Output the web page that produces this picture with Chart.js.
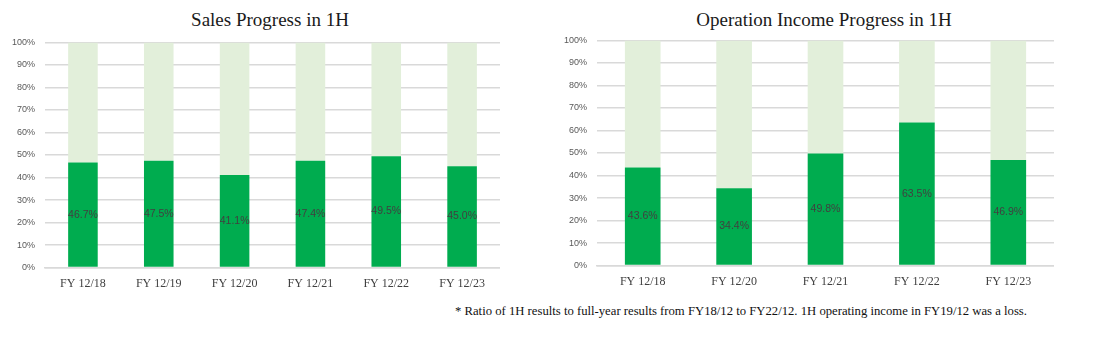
<!DOCTYPE html>
<html>
<head>
<meta charset="utf-8">
<script src="https://cdn.jsdelivr.net/npm/chart.js@4"></script>
<style>
  body { margin: 0; background: #fff; width: 1093px; height: 338px; position: relative; overflow: hidden; }
  .box { position: absolute; }
  .title { position: absolute; font-family: "Liberation Serif", serif; font-size: 19px; color: #1a1a1a; text-align: center; white-space: nowrap; }
  .note { position: absolute; left: 455px; top: 304px; font-family: "Liberation Serif", serif; font-size: 12.7px; color: #111; white-space: nowrap; }
</style>
</head>
<body>
<div class="title" style="left:41px;width:458px;top:9px;">Sales Progress in 1H</div>
<div class="title" style="left:595px;width:458px;top:9px;">Operation Income Progress in 1H</div>
<div class="box" style="left:0;top:27px;width:500px;height:273px;"><canvas id="sales"></canvas></div>
<div class="box" style="left:552px;top:25px;width:502px;height:273px;"><canvas id="income"></canvas></div>
<div class="note">* Ratio of 1H results to full-year results from FY18/12 to FY22/12. 1H operating income in FY19/12 was a loss.</div>
<script>
const salesYears = ['FY 12/18', 'FY 12/19', 'FY 12/20', 'FY 12/21', 'FY 12/22', 'FY 12/23'];
const salesRatio = [46.7, 47.5, 41.1, 47.4, 49.5, 45.0];

const incomeYears = ['FY 12/18', 'FY 12/20', 'FY 12/21', 'FY 12/22', 'FY 12/23'];
const incomeRatio = [43.6, 34.4, 49.8, 63.5, 46.9];

const yTicks = [0, 10, 20, 30, 40, 50, 60, 70, 80, 90, 100];

const dark = '#00AC4F';
const light = '#E2EFDA';

// label in the middle of the first dataset's bars
const midLabels = {
  id: 'midLabels',
  afterDatasetsDraw(chart) {
    const ctx = chart.ctx;
    const meta = chart.getDatasetMeta(0);
    ctx.save();
    ctx.font = '10.5px "Liberation Sans", sans-serif';
    ctx.fillStyle = '#404040';
    ctx.textAlign = 'center';
    ctx.textBaseline = 'middle';
    meta.data.forEach((bar, i) => {
      const v = chart.data.datasets[0].data[i];
      ctx.fillText(v.toFixed(1) + '%', bar.x, (bar.y + bar.base) / 2);
    });
    ctx.restore();
  }
};

function makeChart(id, labels, values) {
  new Chart(document.getElementById(id), {
    type: 'bar',
    data: {
      labels: labels,
      datasets: [
        { data: values, backgroundColor: dark },
        { data: values.map(v => 100 - v), backgroundColor: light }
      ]
    },
    options: {
      animation: false,
      responsive: true,
      maintainAspectRatio: false,
      categoryPercentage: 1,
      barPercentage: 0.39,
      layout: { padding: { top: 2, right: 0, bottom: 0, left: 2 } },
      plugins: { legend: { display: false }, tooltip: { enabled: false } },
      scales: {
        x: {
          stacked: true,
          grid: { display: false, drawTicks: false },
          border: { color: '#D9D9D9', width: 1.5 },
          ticks: { color: '#404040', padding: 9, font: { family: '"Liberation Serif", serif', size: 12 } }
        },
        y: {
          stacked: true,
          min: 0,
          max: 100,
          afterBuildTicks: axis => { axis.ticks = yTicks.map(v => ({ value: v })); },
          grid: { color: '#D9D9D9', lineWidth: 1.5, drawTicks: false },
          border: { display: false },
          ticks: { color: '#595959', padding: 10, font: { family: '"Liberation Sans", sans-serif', size: 9 }, callback: v => v + '%' }
        }
      }
    },
    plugins: [midLabels]
  });
}

makeChart('sales', salesYears, salesRatio);
makeChart('income', incomeYears, incomeRatio);
</script>
</body>
</html>
